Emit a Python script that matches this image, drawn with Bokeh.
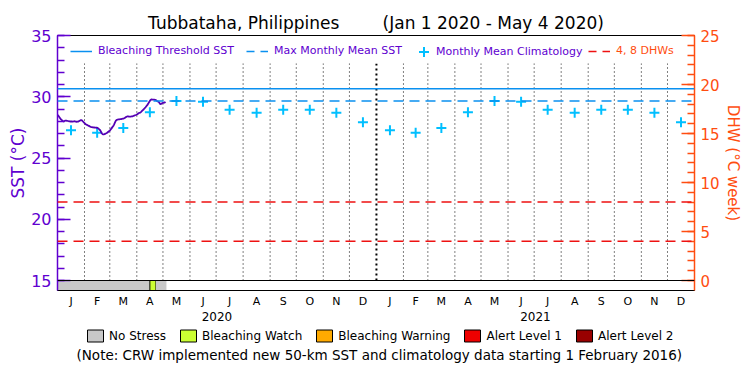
import numpy as np
from bokeh.plotting import figure
from bokeh.layouts import column
from bokeh.models import (Range1d, LinearAxis, FixedTicker, Span, Legend, LegendItem,
                          CustomJSTickFormatter, Label)
from bokeh.embed import file_html
from bokeh.resources import INLINE

# ---------------- data ----------------
station = "Tubbataha, Philippines"
period = "(Jan 1 2020 - May 4 2020)"
month_letters = ["J", "F", "M", "A", "M", "J", "J", "A", "S", "O", "N", "D"]
year_labels = ["2020", "2021"]
month_days_2020 = [31, 29, 31, 30, 31, 30, 31, 31, 30, 31, 30, 31]
month_days_2021 = [31, 28, 31, 30, 31, 30, 31, 31, 30, 31, 30, 31]

# daily SST, Jan 1 2020 .. May 4 2020 (deg C)
sst_daily = [
    28.53, 28.45, 28.35, 28.25, 28.15,
    28.09, 28.02, 27.98, 28.02, 28.05,
    28.06, 28.04, 28.02, 28.00, 27.99,
    27.98, 27.98, 27.97, 27.98, 28.00,
    27.99, 27.97, 27.96, 27.97, 27.98,
    28.02, 28.06, 28.10, 28.08, 28.00,
    27.92, 27.85, 27.78, 27.73, 27.70,
    27.66, 27.62, 27.58, 27.55, 27.53,
    27.51, 27.50, 27.49, 27.48, 27.48,
    27.47, 27.46, 27.40, 27.33, 27.27,
    27.12, 27.00, 26.92, 26.93, 26.95,
    26.99, 27.02, 27.06, 27.12, 27.18,
    27.22, 27.32, 27.42, 27.52, 27.61,
    27.75, 27.90, 28.05, 28.12, 28.14,
    28.15, 28.16, 28.17, 28.18, 28.20,
    28.21, 28.22, 28.26, 28.31, 28.36,
    28.39, 28.40, 28.38, 28.37, 28.38,
    28.39, 28.40, 28.43, 28.46, 28.49,
    28.51, 28.55, 28.60, 28.65, 28.69,
    28.71, 28.77, 28.84, 28.91, 28.98,
    29.06, 29.14, 29.23, 29.31, 29.42,
    29.55, 29.66, 29.75, 29.78, 29.77,
    29.76, 29.76, 29.75, 29.72, 29.66,
    29.62, 29.59, 29.50, 29.39, 29.42,
    29.47, 29.50, 29.52, 29.53, 29.58,
]

# monthly mean climatology (Jan..Dec), same for both years
clim_monthly = [27.27, 27.06, 27.45, 28.74, 29.66, 29.59,
                28.93, 28.69, 28.93, 28.93, 28.69, 27.92]
mmm = 29.66            # max monthly mean
threshold = 30.66      # bleaching threshold (MMM + 1)
dhw_levels = [4, 8]

# alert periods (day index from Jan 1 2020, end exclusive) and stress level
alert_start = [0, 106, 113]
alert_end = [106, 113, 125]
alert_level = [0, 1, 0]
stress_names = ["No Stress", "Bleaching Watch", "Bleaching Warning",
                "Alert Level 1", "Alert Level 2"]
stress_colors = ["#c8c8c8", "#ccff33", "#ffaa00", "#ee0000", "#990000"]

sst_axis = (15, 35)
dhw_axis = (0, 25)
note = "(Note: CRW implemented new 50-km SST and climatology data starting 1 February 2016)"

# ---------------- styling ----------------
FONT = "DejaVu Sans"
PURPLE = "#6000d0"
LINE_PURPLE = "#5400b4"
ORANGE = "#ff4d10"
RED = "#ee1111"
BLUE = "#0a90f0"
CYAN = "#00bfff"
NAN = float("nan")
FRAME_W, FRAME_H = 637, 255
LEFT, RIGHT, TOP, BOTTOM = 57, 50, 35, 33
CANVAS_W = LEFT + FRAME_W + RIGHT
FOOT_H = 375 - (TOP + FRAME_H + BOTTOM)

month_days = month_days_2020 + month_days_2021
ends = np.cumsum(month_days)
starts = ends - np.array(month_days)
mids = [float(m) for m in (starts + ends) / 2.0]
total_days = float(ends[-1])
year_end_2020 = float(sum(month_days_2020))
month_bounds = [float(b) for b in ends[:-1] if b != year_end_2020]
year_mids = [year_end_2020 / 2.0, year_end_2020 + sum(month_days_2021) / 2.0]

bar_depth = 0.816  # depth of the alert strip below the SST axis minimum (SST units)
sst_range = Range1d(sst_axis[0] - bar_depth, sst_axis[1])
dhw_lo = dhw_axis[0] - bar_depth * (dhw_axis[1] - dhw_axis[0]) / (sst_axis[1] - sst_axis[0])
grid_top = 32.7

p = figure(frame_width=FRAME_W, frame_height=FRAME_H, output_backend="svg", toolbar_location=None,
           x_range=Range1d(0, total_days), y_range=sst_range,
           min_border_left=LEFT, min_border_right=RIGHT, min_border_top=TOP,
           min_border_bottom=BOTTOM)
p.extra_y_ranges = {"dhw": Range1d(dhw_lo, dhw_axis[1])}
p.grid.visible = False
p.outline_line_color = "black"
p.outline_line_width = 1
p.background_fill_color = "white"
p.border_fill_color = "white"

# title
p.title.text = station + "\u00a0" * 8 + period
p.title.align = "center"
p.title.text_font = FONT
p.title.text_font_size = "17px"
p.title.text_font_style = "normal"
p.title.text_color = "black"
p.title.standoff = 6

# month dotted lines
p.segment(x0=month_bounds, y0=[sst_axis[0]] * len(month_bounds), x1=month_bounds,
          y1=[grid_top] * len(month_bounds), line_color="black", line_width=1, line_dash="1 3")
p.segment(x0=[year_end_2020], y0=[sst_axis[0]], x1=[year_end_2020], y1=[grid_top],
          line_color="black", line_width=2, line_dash="2 3")

# alert strip
for s, e, lvl in zip(alert_start, alert_end, alert_level):
    p.quad(left=[s], right=[e], bottom=[sst_range.start], top=[sst_axis[0]],
           fill_color=stress_colors[lvl], line_color=None if lvl == 0 else "black",
           line_width=1)

p.add_layout(Span(location=sst_axis[0], dimension="width", line_color="black", line_width=1))

# threshold & MMM lines
p.add_layout(Span(location=threshold, dimension="width", line_color=BLUE, line_width=1.5))
p.add_layout(Span(location=mmm, dimension="width", line_color=BLUE, line_width=1.5,
                  line_dash="10 6"))
for lv in dhw_levels:
    p.add_layout(Span(location=lv, dimension="width", line_color=RED, line_width=1.5,
                      line_dash="10 6", y_range_name="dhw"))

# climatology crosses
clim_r = p.scatter(x=mids, y=clim_monthly + clim_monthly, marker="cross", size=10,
                   line_color=CYAN, line_width=2)

# SST line
p.line(x=list(range(len(sst_daily))), y=sst_daily, line_color=LINE_PURPLE, line_width=1.8)

# ---------------- axes ----------------
ya = p.yaxis[0]
ya.ticker = FixedTicker(ticks=list(range(sst_axis[0], sst_axis[1] + 1, 5)),
                        minor_ticks=list(range(sst_axis[0], sst_axis[1] + 1)))
ya.axis_label = "SST (\u00b0C)"
ya.axis_label_text_font = FONT
ya.axis_label_text_font_size = "17px"
ya.axis_label_text_font_style = "normal"
ya.axis_label_text_color = PURPLE
ya.axis_label_standoff = 0
ya.major_label_text_font = FONT
ya.major_label_text_font_size = "16px"
ya.major_label_text_color = PURPLE
ya.major_label_standoff = 6
ya.axis_line_color = PURPLE
ya.axis_line_width = 1.5
ya.major_tick_line_color = PURPLE
ya.minor_tick_line_color = PURPLE
ya.major_tick_line_width = 1.5
ya.minor_tick_line_width = 1.5
ya.major_tick_in = 13
ya.major_tick_out = 0
ya.minor_tick_in = 7
ya.minor_tick_out = 0

ra = LinearAxis(y_range_name="dhw",
                ticker=FixedTicker(ticks=list(range(dhw_axis[0], dhw_axis[1] + 1, 5)),
                                   minor_ticks=list(range(dhw_axis[0], dhw_axis[1] + 1))))
ra.axis_label = "DHW (\u00b0C week)"
ra.axis_label_text_font = FONT
ra.axis_label_text_font_size = "15px"
ra.axis_label_text_font_style = "normal"
ra.axis_label_text_color = ORANGE
ra.axis_label_standoff = 1
ra.major_label_text_font = FONT
ra.major_label_text_font_size = "15px"
ra.major_label_text_color = ORANGE
ra.major_label_standoff = 6
ra.axis_line_color = ORANGE
ra.axis_line_width = 1.5
ra.major_tick_line_color = ORANGE
ra.minor_tick_line_color = ORANGE
ra.major_tick_line_width = 1.5
ra.minor_tick_line_width = 1.5
ra.major_tick_in = 13
ra.major_tick_out = 0
ra.minor_tick_in = 7
ra.minor_tick_out = 0
p.add_layout(ra, "right")

fmt_code = """
let best = 0, bd = Infinity;
for (let i = 0; i < pos.length; i++) {
  const d = Math.abs(pos[i] - tick);
  if (d < bd) { bd = d; best = i; }
}
return labs[best];
"""
xa = p.xaxis[0]
xa.ticker = FixedTicker(ticks=mids, minor_ticks=[])
xa.formatter = CustomJSTickFormatter(args=dict(pos=mids, labs=month_letters * 2), code=fmt_code)
xa.major_tick_line_color = None
xa.minor_tick_line_color = None
xa.major_tick_out = 0
xa.major_tick_in = 0
xa.minor_tick_out = 0
xa.axis_line_color = "black"
xa.major_label_standoff = 4
xa.major_label_text_font = FONT
xa.major_label_text_font_size = "11px"
xa.major_label_text_color = "black"

yr = LinearAxis(ticker=FixedTicker(ticks=year_mids, minor_ticks=[]),
                formatter=CustomJSTickFormatter(args=dict(pos=year_mids, labs=year_labels),
                                                code=fmt_code))
yr.axis_line_color = None
yr.major_tick_line_color = None
yr.minor_tick_line_color = None
yr.major_tick_out = 0
yr.major_tick_in = 0
yr.minor_tick_out = 0
yr.major_label_standoff = 1
yr.major_label_text_font = FONT
yr.major_label_text_font_size = "12px"
yr.major_label_text_color = "black"
p.add_layout(yr, "below")

# ---------------- legends ----------------
thr_r = p.line(x=[NAN], y=[NAN], line_color=BLUE, line_width=1.5)
mmm_r = p.line(x=[NAN], y=[NAN], line_color=BLUE, line_width=1.5, line_dash="8 6")
dhw_r = p.line(x=[NAN], y=[NAN], line_color=RED, line_width=1.5, line_dash="8 6")


def make_legend(fig, items, loc, color, gw, gh, standoff, spacing=12, size="11px"):
    lg = Legend(items=items, orientation="horizontal", location=loc,
                glyph_width=gw, glyph_height=gh, label_standoff=standoff, spacing=spacing,
                padding=0, margin=0, border_line_color=None, background_fill_alpha=0,
                label_text_font=FONT, label_text_font_size=size,
                label_text_color=color, label_height=12)
    fig.add_layout(lg)
    return lg


make_legend(p, [LegendItem(label="Bleaching Threshold SST", renderers=[thr_r]),
                LegendItem(label="Max Monthly Mean SST", renderers=[mmm_r])],
            (13, 233), PURPLE, 22, 12, 6)
make_legend(p, [LegendItem(label="Monthly Mean Climatology", renderers=[clim_r])],
            (354, 226), PURPLE, 25, 25, 0)
make_legend(p, [LegendItem(label="4, 8 DHWs", renderers=[dhw_r])],
            (531, 233), ORANGE, 22, 12, 6)

# ---------------- footer (stress legend + note) ----------------
foot = figure(frame_width=CANVAS_W, frame_height=FOOT_H, output_backend="svg",
              toolbar_location=None, x_range=Range1d(0, CANVAS_W), y_range=Range1d(0, FOOT_H),
              min_border=0, x_axis_location=None, y_axis_location=None)
foot.grid.visible = False
foot.outline_line_color = None
foot.background_fill_color = "white"
foot.border_fill_color = "white"

box_items = []
for name, col in zip(stress_names, stress_colors):
    r = foot.quad(left=[NAN], right=[NAN], top=[NAN], bottom=[NAN], fill_color=col,
                  line_color="black", line_width=1)
    box_items.append(LegendItem(label=name, renderers=[r]))
make_legend(foot, box_items, (85, FOOT_H - 20), "black", 20, 15, 4, spacing=12, size="12px")

# the footer frame is aligned with the main frame (offset LEFT) inside the column
foot.add_layout(Label(x=76 - LEFT, y=FOOT_H - 31, text=note, text_align="left",
                      text_baseline="middle", text_font=FONT, text_font_size="13.5px",
                      text_color="black"))

layout = column(p, foot, spacing=0)
open("out.html", "w").write(file_html(layout, INLINE))
